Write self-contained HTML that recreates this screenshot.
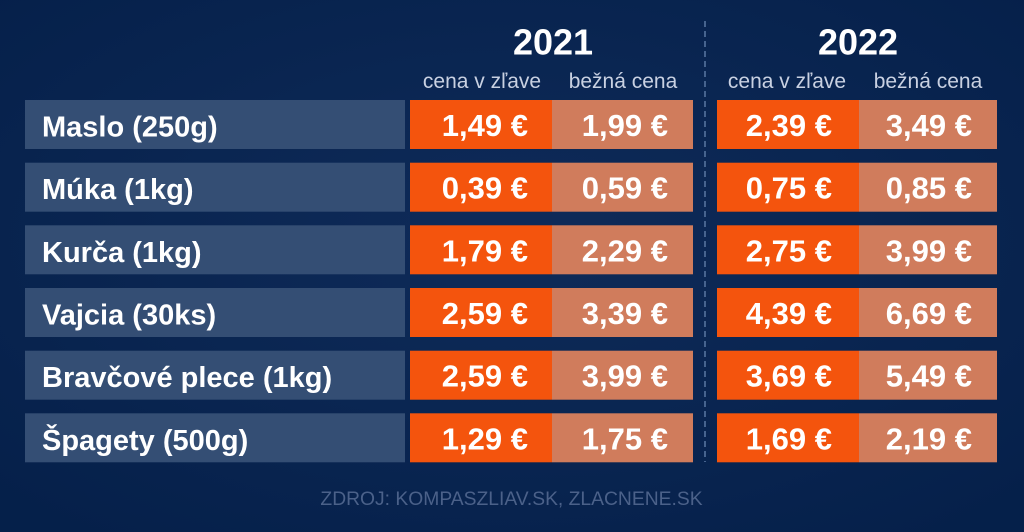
<!DOCTYPE html>
<html><head><meta charset="utf-8"><style>
html,body{margin:0;padding:0;background:#0a2450;}
svg{display:block;}
</style></head><body>
<svg width="1024" height="532" viewBox="0 0 1024 532" xmlns="http://www.w3.org/2000/svg" font-family="'Liberation Sans', sans-serif">
<defs>
<radialGradient id="bg" cx="50%" cy="45%" r="70%">
<stop offset="0" stop-color="#0f2b59"/>
<stop offset="1" stop-color="#05204a"/>
</radialGradient>
</defs>
<rect width="1024" height="532" fill="url(#bg)"/>
<line x1="705" y1="21" x2="705" y2="462" stroke="#46638e" stroke-width="2" stroke-dasharray="6 4"/>
<g font-weight="bold" fill="#ffffff" font-size="36" text-anchor="middle">
<text x="553" y="54.5">2021</text>
<text x="858" y="54.5">2022</text>
</g>
<g fill="#c9d1e2" font-size="21" text-anchor="middle">
<text x="482" y="88">cena v zľave</text>
<text x="623" y="88">bežná cena</text>
<text x="787" y="88">cena v zľave</text>
<text x="928" y="88">bežná cena</text>
</g>
<g id="rows">
<rect x="25" y="100" width="380" height="49" fill="#344e74"/>
<rect x="410" y="100" width="142" height="49" fill="#f4540d"/>
<rect x="552" y="100" width="141" height="49" fill="#d07c5c"/>
<rect x="717" y="100" width="142" height="49" fill="#f4540d"/>
<rect x="859" y="100" width="138" height="49" fill="#d07c5c"/>
<rect x="25" y="162.7" width="380" height="49" fill="#344e74"/>
<rect x="410" y="162.7" width="142" height="49" fill="#f4540d"/>
<rect x="552" y="162.7" width="141" height="49" fill="#d07c5c"/>
<rect x="717" y="162.7" width="142" height="49" fill="#f4540d"/>
<rect x="859" y="162.7" width="138" height="49" fill="#d07c5c"/>
<rect x="25" y="225.3" width="380" height="49" fill="#344e74"/>
<rect x="410" y="225.3" width="142" height="49" fill="#f4540d"/>
<rect x="552" y="225.3" width="141" height="49" fill="#d07c5c"/>
<rect x="717" y="225.3" width="142" height="49" fill="#f4540d"/>
<rect x="859" y="225.3" width="138" height="49" fill="#d07c5c"/>
<rect x="25" y="288" width="380" height="49" fill="#344e74"/>
<rect x="410" y="288" width="142" height="49" fill="#f4540d"/>
<rect x="552" y="288" width="141" height="49" fill="#d07c5c"/>
<rect x="717" y="288" width="142" height="49" fill="#f4540d"/>
<rect x="859" y="288" width="138" height="49" fill="#d07c5c"/>
<rect x="25" y="350.7" width="380" height="49" fill="#344e74"/>
<rect x="410" y="350.7" width="142" height="49" fill="#f4540d"/>
<rect x="552" y="350.7" width="141" height="49" fill="#d07c5c"/>
<rect x="717" y="350.7" width="142" height="49" fill="#f4540d"/>
<rect x="859" y="350.7" width="138" height="49" fill="#d07c5c"/>
<rect x="25" y="413.3" width="380" height="49" fill="#344e74"/>
<rect x="410" y="413.3" width="142" height="49" fill="#f4540d"/>
<rect x="552" y="413.3" width="141" height="49" fill="#d07c5c"/>
<rect x="717" y="413.3" width="142" height="49" fill="#f4540d"/>
<rect x="859" y="413.3" width="138" height="49" fill="#d07c5c"/>
</g>
<g font-weight="bold" fill="#ffffff" font-size="29">
<text x="42" y="136.5">Maslo (250g)</text>
<text x="42" y="199.2">Múka (1kg)</text>
<text x="42" y="261.8">Kurča (1kg)</text>
<text x="42" y="324.5">Vajcia (30ks)</text>
<text x="42" y="387.2">Bravčové plece (1kg)</text>
<text x="42" y="449.8">Špagety (500g)</text>
</g>
<g font-weight="bold" fill="#ffffff" font-size="31" text-anchor="end">
<text x="528" y="136">1,49 €</text><text x="668" y="136">1,99 €</text><text x="832" y="136">2,39 €</text><text x="972" y="136">3,49 €</text>
<text x="528" y="198.7">0,39 €</text><text x="668" y="198.7">0,59 €</text><text x="832" y="198.7">0,75 €</text><text x="972" y="198.7">0,85 €</text>
<text x="528" y="261.3">1,79 €</text><text x="668" y="261.3">2,29 €</text><text x="832" y="261.3">2,75 €</text><text x="972" y="261.3">3,99 €</text>
<text x="528" y="324">2,59 €</text><text x="668" y="324">3,39 €</text><text x="832" y="324">4,39 €</text><text x="972" y="324">6,69 €</text>
<text x="528" y="386.7">2,59 €</text><text x="668" y="386.7">3,99 €</text><text x="832" y="386.7">3,69 €</text><text x="972" y="386.7">5,49 €</text>
<text x="528" y="449.3">1,29 €</text><text x="668" y="449.3">1,75 €</text><text x="832" y="449.3">1,69 €</text><text x="972" y="449.3">2,19 €</text>
</g>
<text x="511.5" y="505" text-anchor="middle" font-size="19.3" fill="#4b6189">ZDROJ: KOMPASZLIAV.SK, ZLACNENE.SK</text>
</svg>
</body></html>
